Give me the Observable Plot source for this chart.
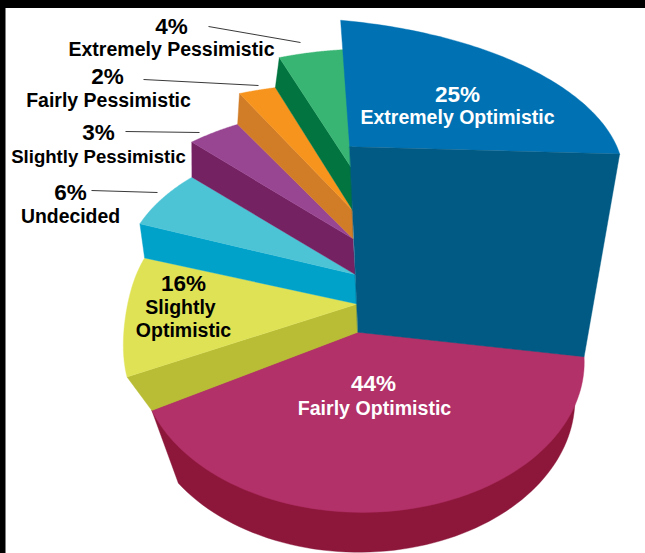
<!doctype html>
<html><head><meta charset="utf-8">
<style>html,body{margin:0;padding:0;background:#fff}svg{display:block}</style>
<script src="https://cdn.jsdelivr.net/npm/d3@7"></script>
<script src="https://cdn.jsdelivr.net/npm/@observablehq/plot@0.6"></script>
</head><body><div id="chart"></div>
<script>
// Survey shares, clockwise from the top of the pie
const categories = ["Extremely Optimistic","Fairly Optimistic","Slightly Optimistic","Undecided","Slightly Pessimistic","Fairly Pessimistic","Extremely Pessimistic"];
const shares = [25,44,16,6,3,2,4];
const topColors  = ["#0072b4","#b23168","#dfe255","#4dc4d6","#984592","#f7941e","#39b573"];
const wallColors = ["#005a84","#8c173a","#b9bd35","#00a2ca","#752263","#d17c27","#01743f"];

// Camera for the exploded staircase: homogeneous projection of (u, v, height)
const camera = [[203.52,53.73,-101.79,363.10],[8.92,-66.20,-218.64,331.57],[0.0418,0.1754,-0.2468,1]];
const startAngle = -4.25;
const heights = [1,0,0.1955,0.3812,0.5835,0.7291,0.9269];   // top surface of each step
const baseHeight = -0.2879, baseRadius = 1.2008;
const radii = [[1.41,1.155],[1.19,1.1252],[1.15,1.1769],[1.1543,1.2429],[1.1965,1.238],[1.2549,1.2666],[1.1297,1.233]];
const skew  = [[4.94,4.16],[16.18,-0.99],[1.65,-11.28],[-9.32,-7.38],[-5.78,-2.54],[-0.09,1.88],[2.86,8]];
const sag = [0,0,0.04,0,0,0,0];                              // flattening of each outer rim
const hubShift = [[0.01,0.03],[-0.03,0],[-0.02,0],[-0.015,0],[-0.01,0],[0,0],[0.01,0]];   // offset of each step's centre

const project = (u, v, z) => {
  const [a, b, c] = camera, w = c[0]*u + c[1]*v + c[2]*z + c[3];
  return [(a[0]*u + a[1]*v + a[2]*z + a[3]) / w, (b[0]*u + b[1]*v + b[2]*z + b[3]) / w];
};
const polar = (r, deg, z) => {
  const t = deg * Math.PI / 180;
  return project(r * Math.sin(t), r * Math.cos(t), z);
};

// Angular extent of each slice comes from the running total of shares
let running = 0;
const slices = shares.map((s, i) => {
  const a0 = startAngle + running * 3.6 + skew[i][0];
  running += s;
  const a1 = startAngle + running * 3.6 + skew[i][1];
  return {i, a0, a1, z: heights[i], r0: radii[i][0], r1: radii[i][1]};
});
const apex = s => project(hubShift[s.i][0], hubShift[s.i][1], s.z);
const outer = (s, e) => e ? polar(s.r1, s.a1, s.z) : polar(s.r0, s.a0, s.z);
const arc = s => d3.range(0, 1.0001, 1/80).map(f =>
  polar(s.r0 + (s.r1 - s.r0)*f - sag[s.i]*Math.sin(Math.PI*f), s.a0 + (s.a1 - s.a0)*f, s.z));

// Polygons are painted from the lowest step up, the tall blue block last
const polys = [];
const addPoly = (key, color, points) => points.forEach(([x, y]) => polys.push({key, color, x, y}));
const [blue, magenta] = slices;
addPoly("wall-1", wallColors[1], [apex(magenta), outer(magenta, 0),
  ...d3.range(-0.18, 0.9301, 1/80).map(f => polar(baseRadius, magenta.a0 + (magenta.a1 - magenta.a0)*f, baseHeight)),
  outer(magenta, 1)]);
addPoly("top-1", topColors[1], [apex(magenta), ...arc(magenta)]);
for (let i = 2; i < 7; i++) {
  const s = slices[i], prev = slices[i - 1];
  addPoly(`wall-${i}`, wallColors[i], [apex(s), outer(s, 0), outer(prev, 1), apex(prev)]);
  addPoly(`top-${i}`, topColors[i], [apex(s), ...arc(s)]);
}
addPoly("top-0", topColors[0], [apex(blue), ...arc(blue)]);
addPoly("wall-0", wallColors[0], [apex(blue), outer(blue, 1), outer(magenta, 0), apex(magenta)]);

// Annotation layout: share and name text, plus leader lines for the small slices
const percentSpots = [[457,94],[373,383],[183,283],[70,192],[98,132],[107,76],[171,26]];
const nameSpots = [[[457,117]],[[374,408]],[[180,307],[183,330]],[[70,216]],[[98,157]],[[108,100]],[[171,49]]];
const nameLines = [["Extremely Optimistic"],["Fairly Optimistic"],["Slightly","Optimistic"],["Undecided"],["Slightly Pessimistic"],["Fairly Pessimistic"],["Extremely Pessimistic"]];
const nameSizes = [19.5,19.6,19.5,19.4,18.6,19.5,19.5];
const inkColors = ["#fff","#fff","#000","#000","#000","#000","#000"];
const leaders = [[91,190,157,192],[125,131,199,132],[143,79,258,85],[208,26,300,42]];

const percents = shares.map((s, i) => ({text: `${s}%`, x: percentSpots[i][0], y: percentSpots[i][1], ink: inkColors[i]}));
const names = nameLines.flatMap((lines, i) => lines.map((text, j) => ({text, x: nameSpots[i][j][0], y: nameSpots[i][j][1], ink: inkColors[i], size: nameSizes[i]})));
const bands = [{x1:0,x2:645,y1:0,y2:8},{x1:0,x2:5.5,y1:0,y2:553}];

const font = {fontFamily: "'Liberation Sans', Arial, sans-serif", fontWeight: "bold", textAnchor: "middle", lineAnchor: "middle"};

const chart = Plot.plot({
  width: 645, height: 553,
  margin: 0,
  x: {domain: [0, 645], range: [0, 645], axis: null},
  y: {domain: [0, 553], range: [0, 553], axis: null},
  color: {type: "identity"},
  style: {background: "#fff"},
  marks: [
    Plot.rect(bands, {x1: "x1", x2: "x2", y1: "y1", y2: "y2", fill: "#000"}),
    Plot.line(polys, {x: "x", y: "y", z: "key", fill: "color", stroke: "color", strokeWidth: 0.4, curve: "linear-closed"}),
    Plot.link(leaders, {x1: d => d[0], y1: d => d[1], x2: d => d[2], y2: d => d[3], stroke: "#222", strokeWidth: 0.9}),
    Plot.text(percents, {...font, x: "x", y: "y", text: "text", fill: "ink", fontSize: 22.5}),
    Plot.text(names, {...font, x: "x", y: "y", text: "text", fill: "ink", fontSize: "size"})
  ]
});
document.getElementById("chart").append(chart);
</script></body></html>
